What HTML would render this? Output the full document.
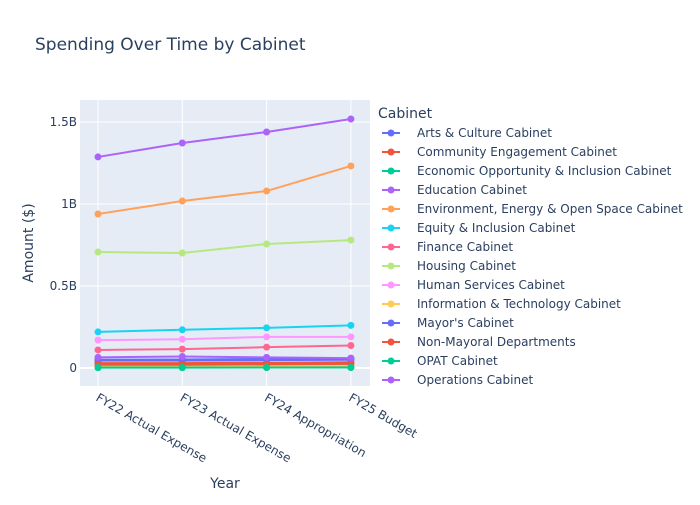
<!DOCTYPE html>
<html><head><meta charset="utf-8"><style>
body{margin:0;background:#fff;font-family:"Liberation Sans","DejaVu Sans",sans-serif}
svg text{font-family:"DejaVu Sans","Liberation Sans",sans-serif;fill:#2a3f5f}
</style></head><body>
<svg id="c" width="700" height="500">
<rect width="700" height="500" fill="#fff"/>
<text x="35" y="50" font-size="17">Spending Over Time by Cabinet</text>
<rect x="80" y="100" width="290" height="286" fill="#e5ecf6"/>
<g id="grid"></g><g id="series"></g><g id="legend"></g>
<text x="225" y="488" font-size="14" text-anchor="middle">Year</text>
<text transform="translate(33,243) rotate(-90)" font-size="14" text-anchor="middle">Amount ($)</text>
</svg>
<script>
const categories=["FY22 Actual Expense","FY23 Actual Expense","FY24 Appropriation","FY25 Budget"];
const seriesNames=["Arts & Culture Cabinet","Community Engagement Cabinet","Economic Opportunity & Inclusion Cabinet","Education Cabinet","Environment, Energy & Open Space Cabinet","Equity & Inclusion Cabinet","Finance Cabinet","Housing Cabinet","Human Services Cabinet","Information & Technology Cabinet","Mayor's Cabinet","Non-Mayoral Departments","OPAT Cabinet","Operations Cabinet"];
const colors=["#636efa","#EF553B","#00cc96","#ab63fa","#FFA15A","#19d3f3","#FF6692","#B6E880","#FF97FF","#FECB52","#636efa","#EF553B","#00cc96","#ab63fa"];
const v0=[0.045,0.045,0.048,0.05];
const v1=[0.03,0.03,0.032,0.035];
const v2=[0.002,0.002,0.003,0.003];
const v3=[1.287,1.372,1.439,1.518];
const v4=[0.939,1.018,1.079,1.232];
const v5=[0.22,0.233,0.245,0.26];
const v6=[0.11,0.115,0.127,0.137];
const v7=[0.707,0.701,0.756,0.78];
const v8=[0.17,0.175,0.19,0.19];
const v9=[0.01,0.012,0.012,0.015];
const v10=[0.05,0.052,0.055,0.058];
const v11=[0.02,0.02,0.022,0.025];
const v12=[0.003,0.003,0.003,0.004];
const v13=[0.065,0.07,0.065,0.06];
const values=[v0,v1,v2,v3,v4,v5,v6,v7,v8,v9,v10,v11,v12,v13];
const yTicks=[0,0.5,1,1.5];
const yTickLabels=["0","0.5B","1B","1.5B"];
const NS="http://www.w3.org/2000/svg";
const X=i=>98+i*84.3;
const Y=v=>368-v*164;
function mk(t,a,p){const e=document.createElementNS(NS,t);for(const k in a)e.setAttribute(k,a[k]);p.appendChild(e);return e;}
const g=document.getElementById('grid');
yTicks.forEach((t,i)=>{
 const l=mk('line',{x1:80,x2:370,y1:Y(t),y2:Y(t),stroke:'#fff','stroke-width':t===0?2:1},g);
 
 
 const tx=mk('text',{x:77,y:Y(t)+4,'font-size':12,'text-anchor':'end'},g);tx.textContent=yTickLabels[i];
 
 
});
categories.forEach((c,i)=>{
 const l=mk('line',{x1:X(i),x2:X(i),y1:100,y2:386,stroke:'#fff'},g);
 
 
 const tx=mk('text',{transform:`translate(${X(i)-3},${400}) rotate(30)`,'font-size':12},g);tx.textContent=c;
 
 
});
const s=document.getElementById('series');
values.forEach((vals,k)=>{
 const grp=mk('g',{},s);
 
 
 mk('polyline',{points:vals.map((v,i)=>X(i)+','+Y(v)).join(' '),fill:'none',stroke:colors[k],'stroke-width':2},grp);
 vals.forEach((v,i)=>{const c=mk('circle',{cx:X(i),cy:Y(v),r:3.5,fill:colors[k]},grp);
  
  });
});
const lg=document.getElementById('legend');
const lt=mk('text',{x:378,y:118,'font-size':14},lg);lt.textContent='Cabinet';


seriesNames.forEach((n,k)=>{
 const y=133+k*19;
 const e=mk('g',{},lg);
 
 
 mk('line',{x1:382,x2:400,y1:y,y2:y,stroke:colors[k],'stroke-width':2},e);
 mk('circle',{cx:391,cy:y,r:3.5,fill:colors[k]},e);
 const t=mk('text',{x:417,y:y+4,'font-size':12},e);t.textContent=n;
});
</script>
</body></html>
